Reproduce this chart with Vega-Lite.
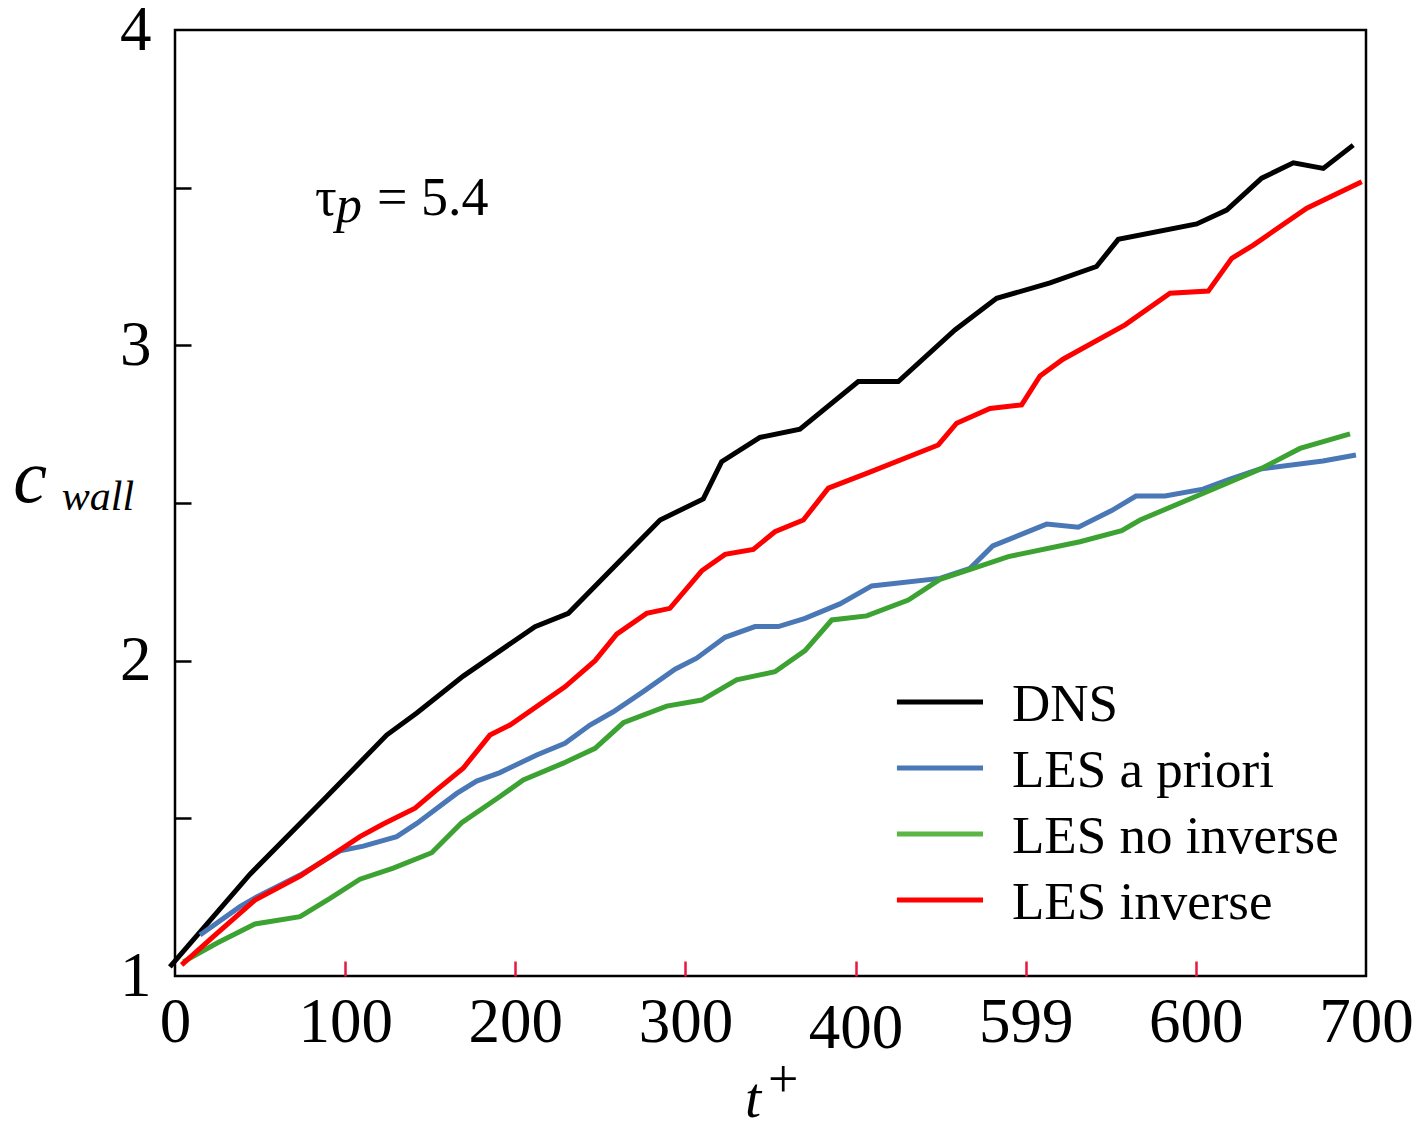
{
  "$schema": "https://vega.github.io/schema/vega-lite/v6.json",
  "width": 1191,
  "height": 946,
  "autosize": {"type": "none"},
  "padding": {"left": 175, "top": 30, "right": 61, "bottom": 149},
  "background": "white",
  "config": {
    "view": {"stroke": "black", "strokeWidth": 2.5},
    "font": "Liberation Serif"
  },
  "datasets": {
    "curves": [
      {"series": "DNS", "t": -3, "c": 1.029},
      {"series": "DNS", "t": 44.1, "c": 1.323},
      {"series": "DNS", "t": 87.2, "c": 1.558},
      {"series": "DNS", "t": 124.4, "c": 1.764},
      {"series": "DNS", "t": 142.1, "c": 1.834},
      {"series": "DNS", "t": 169.4, "c": 1.951},
      {"series": "DNS", "t": 211.6, "c": 2.108},
      {"series": "DNS", "t": 231.2, "c": 2.150},
      {"series": "DNS", "t": 285.1, "c": 2.446},
      {"series": "DNS", "t": 310.5, "c": 2.513},
      {"series": "DNS", "t": 321.3, "c": 2.631},
      {"series": "DNS", "t": 343.8, "c": 2.708},
      {"series": "DNS", "t": 367.3, "c": 2.734},
      {"series": "DNS", "t": 401.6, "c": 2.885},
      {"series": "DNS", "t": 425.1, "c": 2.885},
      {"series": "DNS", "t": 458.4, "c": 3.049},
      {"series": "DNS", "t": 482.9, "c": 3.149},
      {"series": "DNS", "t": 514.3, "c": 3.198},
      {"series": "DNS", "t": 541.6, "c": 3.250},
      {"series": "DNS", "t": 554.4, "c": 3.336},
      {"series": "DNS", "t": 600.5, "c": 3.385},
      {"series": "DNS", "t": 618.1, "c": 3.429},
      {"series": "DNS", "t": 638.7, "c": 3.530},
      {"series": "DNS", "t": 657.3, "c": 3.579},
      {"series": "DNS", "t": 674.9, "c": 3.561},
      {"series": "DNS", "t": 692.5, "c": 3.635},

      {"series": "LES a priori", "t": 14.7, "c": 1.130},
      {"series": "LES a priori", "t": 38.2, "c": 1.220},
      {"series": "LES a priori", "t": 48.0, "c": 1.251},
      {"series": "LES a priori", "t": 73.5, "c": 1.320},
      {"series": "LES a priori", "t": 97.0, "c": 1.397},
      {"series": "LES a priori", "t": 110.7, "c": 1.412},
      {"series": "LES a priori", "t": 130.3, "c": 1.442},
      {"series": "LES a priori", "t": 142.1, "c": 1.484},
      {"series": "LES a priori", "t": 165.6, "c": 1.579},
      {"series": "LES a priori", "t": 177.3, "c": 1.618},
      {"series": "LES a priori", "t": 191.0, "c": 1.645},
      {"series": "LES a priori", "t": 212.6, "c": 1.701},
      {"series": "LES a priori", "t": 229.2, "c": 1.738},
      {"series": "LES a priori", "t": 243.9, "c": 1.796},
      {"series": "LES a priori", "t": 257.6, "c": 1.838},
      {"series": "LES a priori", "t": 275.2, "c": 1.902},
      {"series": "LES a priori", "t": 293.9, "c": 1.973},
      {"series": "LES a priori", "t": 306.6, "c": 2.008},
      {"series": "LES a priori", "t": 323.3, "c": 2.074},
      {"series": "LES a priori", "t": 340.9, "c": 2.108},
      {"series": "LES a priori", "t": 354.6, "c": 2.108},
      {"series": "LES a priori", "t": 370.3, "c": 2.134},
      {"series": "LES a priori", "t": 390.8, "c": 2.180},
      {"series": "LES a priori", "t": 409.5, "c": 2.237},
      {"series": "LES a priori", "t": 449.6, "c": 2.261},
      {"series": "LES a priori", "t": 467.3, "c": 2.293},
      {"series": "LES a priori", "t": 480.6, "c": 2.364},
      {"series": "LES a priori", "t": 512.3, "c": 2.433},
      {"series": "LES a priori", "t": 530.9, "c": 2.423},
      {"series": "LES a priori", "t": 550.5, "c": 2.476},
      {"series": "LES a priori", "t": 564.8, "c": 2.522},
      {"series": "LES a priori", "t": 581.9, "c": 2.522},
      {"series": "LES a priori", "t": 604.2, "c": 2.544},
      {"series": "LES a priori", "t": 620.1, "c": 2.576},
      {"series": "LES a priori", "t": 637.7, "c": 2.608},
      {"series": "LES a priori", "t": 674.7, "c": 2.633},
      {"series": "LES a priori", "t": 694.1, "c": 2.652},

      {"series": "LES no inverse", "t": 4.9, "c": 1.045},
      {"series": "LES no inverse", "t": 24.5, "c": 1.104},
      {"series": "LES no inverse", "t": 47.0, "c": 1.165},
      {"series": "LES no inverse", "t": 73.5, "c": 1.188},
      {"series": "LES no inverse", "t": 91.1, "c": 1.246},
      {"series": "LES no inverse", "t": 108.7, "c": 1.307},
      {"series": "LES no inverse", "t": 128.3, "c": 1.342},
      {"series": "LES no inverse", "t": 150.9, "c": 1.391},
      {"series": "LES no inverse", "t": 168.5, "c": 1.486},
      {"series": "LES no inverse", "t": 191.0, "c": 1.569},
      {"series": "LES no inverse", "t": 204.7, "c": 1.622},
      {"series": "LES no inverse", "t": 228.2, "c": 1.675},
      {"series": "LES no inverse", "t": 246.9, "c": 1.722},
      {"series": "LES no inverse", "t": 263.5, "c": 1.803},
      {"series": "LES no inverse", "t": 289.0, "c": 1.856},
      {"series": "LES no inverse", "t": 309.6, "c": 1.875},
      {"series": "LES no inverse", "t": 330.1, "c": 1.939},
      {"series": "LES no inverse", "t": 352.6, "c": 1.965},
      {"series": "LES no inverse", "t": 370.3, "c": 2.032},
      {"series": "LES no inverse", "t": 386.0, "c": 2.129},
      {"series": "LES no inverse", "t": 406.5, "c": 2.142},
      {"series": "LES no inverse", "t": 431.0, "c": 2.192},
      {"series": "LES no inverse", "t": 449.6, "c": 2.258},
      {"series": "LES no inverse", "t": 469.2, "c": 2.293},
      {"series": "LES no inverse", "t": 489.8, "c": 2.330},
      {"series": "LES no inverse", "t": 531.9, "c": 2.377},
      {"series": "LES no inverse", "t": 556.4, "c": 2.412},
      {"series": "LES no inverse", "t": 567.2, "c": 2.446},
      {"series": "LES no inverse", "t": 637.7, "c": 2.607},
      {"series": "LES no inverse", "t": 661.2, "c": 2.673},
      {"series": "LES no inverse", "t": 690.6, "c": 2.719},

      {"series": "LES inverse", "t": 3.9, "c": 1.035},
      {"series": "LES inverse", "t": 22.5, "c": 1.125},
      {"series": "LES inverse", "t": 47.0, "c": 1.241},
      {"series": "LES inverse", "t": 73.5, "c": 1.317},
      {"series": "LES inverse", "t": 97.0, "c": 1.400},
      {"series": "LES inverse", "t": 108.7, "c": 1.442},
      {"series": "LES inverse", "t": 122.4, "c": 1.482},
      {"series": "LES inverse", "t": 141.1, "c": 1.532},
      {"series": "LES inverse", "t": 153.8, "c": 1.590},
      {"series": "LES inverse", "t": 169.4, "c": 1.659},
      {"series": "LES inverse", "t": 185.1, "c": 1.764},
      {"series": "LES inverse", "t": 196.9, "c": 1.796},
      {"series": "LES inverse", "t": 229.2, "c": 1.917},
      {"series": "LES inverse", "t": 246.9, "c": 2.000},
      {"series": "LES inverse", "t": 259.6, "c": 2.084},
      {"series": "LES inverse", "t": 277.2, "c": 2.150},
      {"series": "LES inverse", "t": 290.9, "c": 2.166},
      {"series": "LES inverse", "t": 309.6, "c": 2.285},
      {"series": "LES inverse", "t": 323.3, "c": 2.337},
      {"series": "LES inverse", "t": 339.9, "c": 2.353},
      {"series": "LES inverse", "t": 352.6, "c": 2.409},
      {"series": "LES inverse", "t": 369.3, "c": 2.446},
      {"series": "LES inverse", "t": 384.0, "c": 2.547},
      {"series": "LES inverse", "t": 406.5, "c": 2.594},
      {"series": "LES inverse", "t": 448.6, "c": 2.684},
      {"series": "LES inverse", "t": 459.4, "c": 2.753},
      {"series": "LES inverse", "t": 479.0, "c": 2.800},
      {"series": "LES inverse", "t": 497.6, "c": 2.811},
      {"series": "LES inverse", "t": 508.4, "c": 2.903},
      {"series": "LES inverse", "t": 521.9, "c": 2.956},
      {"series": "LES inverse", "t": 558.4, "c": 3.065},
      {"series": "LES inverse", "t": 584.8, "c": 3.165},
      {"series": "LES inverse", "t": 607.3, "c": 3.172},
      {"series": "LES inverse", "t": 621.1, "c": 3.276},
      {"series": "LES inverse", "t": 633.8, "c": 3.318},
      {"series": "LES inverse", "t": 665.2, "c": 3.435},
      {"series": "LES inverse", "t": 697.5, "c": 3.519}
    ]
  },
  "layer": [
    {
      "data": {"name": "curves"},
      "mark": {"type": "line", "strokeWidth": 5, "clip": false},
      "encoding": {
        "x": {
          "field": "t",
          "type": "quantitative",
          "scale": {"domain": [0, 700], "nice": false, "zero": false},
          "axis": {
            "title": null,
            "values": [0, 100, 200, 300, 400, 500, 600, 700],
            "labelExpr": "datum.value == 500 ? '599' : datum.label",
            "domain": false,
            "grid": false,
            "tickSize": -15,
            "tickWidth": 2.5,
            "tickColor": {"condition": {"test": "datum.value == 0 || datum.value == 700", "value": "transparent"}, "value": "#e8173f"},
            "labelFont": "Liberation Serif",
            "labelFontSize": 63,
            "labelColor": "black",
            "labelBaseline": "top",
            "labelPadding": {"condition": {"test": "datum.value == 400", "value": 36}, "value": 30},
            "labelFlush": false,
            "labelOverlap": false
          }
        },
        "y": {
          "field": "c",
          "type": "quantitative",
          "scale": {"domain": [1, 4], "nice": false, "zero": false},
          "axis": {
            "title": null,
            "values": [1, 1.5, 2, 2.5, 3, 3.5, 4],
            "labelExpr": "datum.value % 1 == 0 ? format(datum.value, 'd') : ''",
            "domain": false,
            "grid": false,
            "tickSize": -16,
            "tickWidth": 2.5,
            "tickColor": {"condition": {"test": "datum.value == 1 || datum.value == 4", "value": "transparent"}, "value": "black"},
            "labelFont": "Liberation Serif",
            "labelFontSize": 63,
            "labelColor": "black",
            "labelPadding": 40,
            "labelFlush": false,
            "labelOverlap": false
          }
        },
        "color": {
          "field": "series",
          "type": "nominal",
          "scale": {
            "domain": ["DNS", "LES a priori", "LES no inverse", "LES inverse"],
            "range": ["#000000", "#4a77b6", "#3ca232", "#ff0000"]
          },
          "legend": null
        },
        "order": {"field": "t", "type": "quantitative"}
      }
    },
    {
      "data": {"values": [{}]},
      "mark": {"type": "rule", "color": "#000000", "strokeWidth": 5},
      "encoding": {"x": {"datum": 424.3, "type": "quantitative"}, "x2": {"datum": 474.9}, "y": {"datum": 1.869, "type": "quantitative"}}
    },
    {
      "data": {"values": [{}]},
      "mark": {"type": "rule", "color": "#4a77b6", "strokeWidth": 5},
      "encoding": {"x": {"datum": 424.3, "type": "quantitative"}, "x2": {"datum": 474.9}, "y": {"datum": 1.660, "type": "quantitative"}}
    },
    {
      "data": {"values": [{}]},
      "mark": {"type": "rule", "color": "#5cb646", "strokeWidth": 5},
      "encoding": {"x": {"datum": 424.3, "type": "quantitative"}, "x2": {"datum": 474.9}, "y": {"datum": 1.450, "type": "quantitative"}}
    },
    {
      "data": {"values": [{}]},
      "mark": {"type": "rule", "color": "#ff0000", "strokeWidth": 5},
      "encoding": {"x": {"datum": 424.3, "type": "quantitative"}, "x2": {"datum": 474.9}, "y": {"datum": 1.241, "type": "quantitative"}}
    },
    {
      "data": {"values": [{}]},
      "mark": {"type": "text", "text": "DNS", "font": "Liberation Serif", "fontSize": 53, "align": "left", "baseline": "middle", "color": "black"},
      "encoding": {"x": {"datum": 491.9, "type": "quantitative"}, "y": {"datum": 1.859, "type": "quantitative"}}
    },
    {
      "data": {"values": [{}]},
      "mark": {"type": "text", "text": "LES a priori", "font": "Liberation Serif", "fontSize": 53, "align": "left", "baseline": "middle", "color": "black"},
      "encoding": {"x": {"datum": 491.9, "type": "quantitative"}, "y": {"datum": 1.650, "type": "quantitative"}}
    },
    {
      "data": {"values": [{}]},
      "mark": {"type": "text", "text": "LES no inverse", "font": "Liberation Serif", "fontSize": 53, "align": "left", "baseline": "middle", "color": "black"},
      "encoding": {"x": {"datum": 491.9, "type": "quantitative"}, "y": {"datum": 1.441, "type": "quantitative"}}
    },
    {
      "data": {"values": [{}]},
      "mark": {"type": "text", "text": "LES inverse", "font": "Liberation Serif", "fontSize": 53, "align": "left", "baseline": "middle", "color": "black"},
      "encoding": {"x": {"datum": 491.9, "type": "quantitative"}, "y": {"datum": 1.232, "type": "quantitative"}}
    },
    {
      "data": {"values": [{}]},
      "mark": {"type": "text", "text": "τ", "font": "Liberation Serif", "fontSize": 54, "align": "left", "baseline": "alphabetic", "color": "black"},
      "encoding": {"x": {"datum": 82.3, "type": "quantitative"}, "y": {"datum": 3.413, "type": "quantitative"}}
    },
    {
      "data": {"values": [{}]},
      "mark": {"type": "text", "text": "p", "font": "Liberation Serif", "fontStyle": "italic", "fontSize": 52, "align": "left", "baseline": "alphabetic", "color": "black"},
      "encoding": {"x": {"datum": 94.6, "type": "quantitative"}, "y": {"datum": 3.391, "type": "quantitative"}}
    },
    {
      "data": {"values": [{}]},
      "mark": {"type": "text", "text": "= 5.4", "font": "Liberation Serif", "fontSize": 54, "align": "left", "baseline": "alphabetic", "color": "black"},
      "encoding": {"x": {"datum": 118.7, "type": "quantitative"}, "y": {"datum": 3.413, "type": "quantitative"}}
    },
    {
      "data": {"values": [{}]},
      "mark": {"type": "text", "text": "c", "font": "Liberation Serif", "fontStyle": "italic", "fontSize": 76, "align": "left", "baseline": "alphabetic", "color": "black", "clip": false},
      "encoding": {"x": {"datum": -95.0, "type": "quantitative"}, "y": {"datum": 2.503, "type": "quantitative"}}
    },
    {
      "data": {"values": [{}]},
      "mark": {"type": "text", "text": "wall", "font": "Liberation Serif", "fontStyle": "italic", "fontSize": 42, "align": "left", "baseline": "alphabetic", "color": "black", "clip": false},
      "encoding": {"x": {"datum": -66.5, "type": "quantitative"}, "y": {"datum": 2.478, "type": "quantitative"}}
    },
    {
      "data": {"values": [{}]},
      "mark": {"type": "text", "text": "t", "font": "Liberation Serif", "fontStyle": "italic", "fontSize": 58, "align": "left", "baseline": "alphabetic", "color": "black", "clip": false},
      "encoding": {"x": {"datum": 335.0, "type": "quantitative"}, "y": {"datum": 0.553, "type": "quantitative"}}
    },
    {
      "data": {"values": [{}]},
      "mark": {"type": "text", "text": "+", "font": "Liberation Serif", "fontSize": 54, "align": "left", "baseline": "alphabetic", "color": "black", "clip": false},
      "encoding": {"x": {"datum": 348.5, "type": "quantitative"}, "y": {"datum": 0.616, "type": "quantitative"}}
    }
  ]
}
